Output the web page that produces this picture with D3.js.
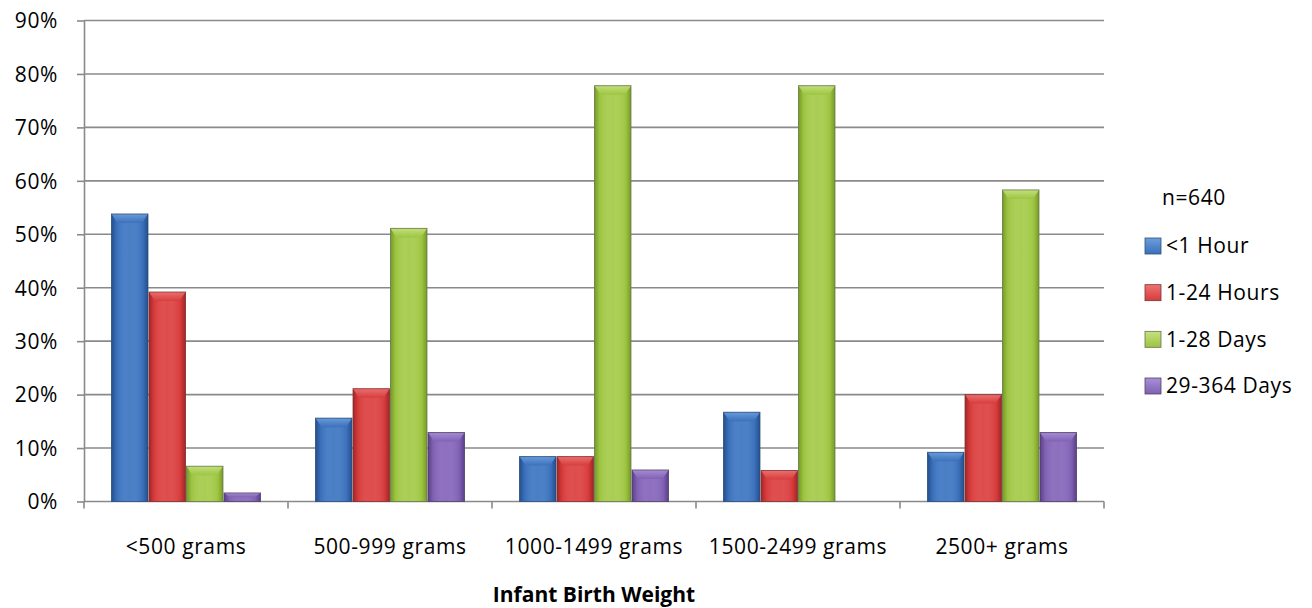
<!DOCTYPE html>
<html>
<head>
<meta charset="utf-8">
<script src="https://cdn.jsdelivr.net/npm/d3@7"></script>
<style>
  html, body { margin: 0; padding: 0; background: #fff; }
  svg text { font-family: "Open Sans", "Noto Sans", sans-serif; fill: #000; }
</style>
</head>
<body>
<svg id="chart" width="1312" height="608"></svg>
<script>
// Infant deaths by age at death, grouped by birth weight
const categories = ["<500 grams", "500-999 grams", "1000-1499 grams", "1500-2499 grams", "2500+ grams"];
const seriesNames = ["<1 Hour", "1-24 Hours", "1-28 Days", "29-364 Days"];
const lessThan1Hour = [53.8, 15.6, 8.4, 16.7, 9.2];
const hours1to24    = [39.2, 21.1, 8.4, 5.8, 20.0];
const days1to28     = [6.6, 51.1, 77.8, 77.8, 58.3];
const days29to364   = [1.6, 12.9, 5.9, 0, 12.9];
const yTicks = [0, 10, 20, 30, 40, 50, 60, 70, 80, 90];
const sampleNote = "n=640";
const xTitle = "Infant Birth Weight";

const seriesValues = [lessThan1Hour, hours1to24, days1to28, days29to364];
const colors = [
  { base: "#3a6fba", light: "#6c9fdd", dark: "#244f8c", edge: "#2f4f78" },
  { base: "#d63b3b", light: "#ee7373", dark: "#a42525", edge: "#7a3434" },
  { base: "#9cc43f", light: "#c6e183", dark: "#76992a", edge: "#66754a" },
  { base: "#7f60b2", light: "#aa8fd8", dark: "#5a4088", edge: "#4e4462" }
];

const svg = d3.select("#chart");
const plotLeft = 84, plotRight = 1104, plotTop = 20.5, plotBottom = 501.5;
const fontSize = 21, spacing = "0.6px";

const x0 = d3.scaleBand().domain(categories).range([plotLeft, plotRight]).paddingInner(0).paddingOuter(0);
const x1 = d3.scaleBand().domain(seriesNames).range([0, x0.bandwidth()]).paddingOuter(0.72).paddingInner(0);
const y = d3.scaleLinear().domain([0, 90]).range([plotBottom, plotTop]);

// gradients for each series
const defs = svg.append("defs");
colors.forEach((c, i) => {
  const g = defs.append("linearGradient").attr("id", "grad" + i)
    .attr("x1", "0%").attr("x2", "100%").attr("y1", "0%").attr("y2", "0%");
  g.append("stop").attr("offset", "0%").attr("stop-color", c.dark);
  g.append("stop").attr("offset", "14%").attr("stop-color", c.base);
  g.append("stop").attr("offset", "50%").attr("stop-color", c.light).attr("stop-opacity", 0.3);
  g.append("stop").attr("offset", "86%").attr("stop-color", c.base);
  g.append("stop").attr("offset", "100%").attr("stop-color", c.dark);
  const t = defs.append("linearGradient").attr("id", "cap" + i)
    .attr("x1", "0%").attr("x2", "0%").attr("y1", "0%").attr("y2", "100%");
  t.append("stop").attr("offset", "0%").attr("stop-color", c.light);
  t.append("stop").attr("offset", "100%").attr("stop-color", c.base);
});

// gridlines
svg.append("g").selectAll("line").data(yTicks.filter(d => d > 0)).join("line")
  .attr("x1", plotLeft).attr("x2", plotRight)
  .attr("y1", d => y(d)).attr("y2", d => y(d))
  .attr("stroke", "#8a8a8a").attr("stroke-width", 1.6);

// y axis
const yAxis = d3.axisLeft(y).tickValues(yTicks).tickFormat(d => d + "%").tickSizeInner(7).tickSizeOuter(0);
const ya = svg.append("g").attr("transform", `translate(${plotLeft},0)`).call(yAxis);
ya.select(".domain").attr("stroke", "#8a8a8a").attr("stroke-width", 1.6);
ya.selectAll(".tick line").attr("stroke", "#8a8a8a").attr("stroke-width", 1.6);
ya.selectAll(".tick text").attr("font-size", fontSize).attr("dy", "0.35em").attr("x", -26)
  .attr("letter-spacing", spacing).style("font-family", "'Open Sans', sans-serif");

// x axis with ticks at category boundaries
const xa = svg.append("g").attr("transform", `translate(0,${plotBottom})`);
xa.append("line").attr("x1", plotLeft).attr("x2", plotRight).attr("stroke", "#8a8a8a").attr("stroke-width", 1.6);
const boundaries = categories.map(c => x0(c)).concat([plotRight]);
xa.selectAll("line.tick").data(boundaries).join("line").attr("class", "tick")
  .attr("x1", d => d).attr("x2", d => d).attr("y1", 0).attr("y2", 7)
  .attr("stroke", "#8a8a8a").attr("stroke-width", 1.6);
xa.selectAll("text").data(categories).join("text")
  .attr("x", d => x0(d) + x0.bandwidth() / 2).attr("y", 45).attr("dy", "0.35em")
  .attr("letter-spacing", spacing)
  .attr("text-anchor", "middle").attr("font-size", fontSize).text(d => d);

// bars
const groups = svg.append("g").selectAll("g").data(categories).join("g")
  .attr("transform", d => `translate(${x0(d)},0)`);
groups.each(function(cat, ci) {
  const g = d3.select(this);
  seriesNames.forEach((s, si) => {
    const v = seriesValues[si][ci];
    if (v <= 0) return;
    const bx = x1(s), bw = x1.bandwidth(), by = y(v), bh = plotBottom - y(v);
    const bar = g.append("g");
    bar.append("rect").attr("x", bx + 0.5).attr("y", by).attr("width", bw - 1).attr("height", bh)
      .attr("fill", colors[si].base);
    bar.append("rect").attr("x", bx + 0.5).attr("y", by).attr("width", bw - 1).attr("height", bh)
      .attr("fill", `url(#grad${si})`);
    // bevelled top edge
    const bev = Math.min(9, bh / 2);
    const inset = Math.min(6, bw / 4);
    bar.append("path")
      .attr("d", `M${bx + 0.5},${by} L${bx + bw - 0.5},${by} L${bx + bw - 0.5 - inset},${by + bev} L${bx + 0.5 + inset},${by + bev} Z`)
      .attr("fill", `url(#cap${si})`).attr("opacity", 0.9);
    bar.append("rect").attr("x", bx + 0.5).attr("y", by).attr("width", bw - 1).attr("height", bh)
      .attr("fill", "none").attr("stroke", colors[si].edge).attr("stroke-width", 1).attr("stroke-opacity", 0.75);
  });
});

// legend
const legend = svg.append("g");
legend.append("text").attr("x", 1162).attr("y", 198).attr("dy", "0.35em").attr("font-size", fontSize)
  .attr("letter-spacing", spacing).text(sampleNote);
const ly = d3.scalePoint().domain(seriesNames).range([246, 386]);
seriesNames.forEach((s, i) => {
  legend.append("rect").attr("x", 1145).attr("y", ly(s) - 8).attr("width", 16).attr("height", 16)
    .attr("fill", `url(#cap${i})`).attr("stroke", colors[i].edge).attr("stroke-width", 0.8);
  legend.append("text").attr("x", 1166).attr("y", ly(s)).attr("dy", "0.35em").attr("font-size", fontSize)
    .attr("letter-spacing", spacing).text(s);
});

// axis title
svg.append("text").attr("x", (plotLeft + plotRight) / 2).attr("y", 595).attr("dy", "0.35em")
  .attr("text-anchor", "middle").attr("font-size", fontSize).attr("font-weight", "bold").text(xTitle);
</script>
</body>
</html>
